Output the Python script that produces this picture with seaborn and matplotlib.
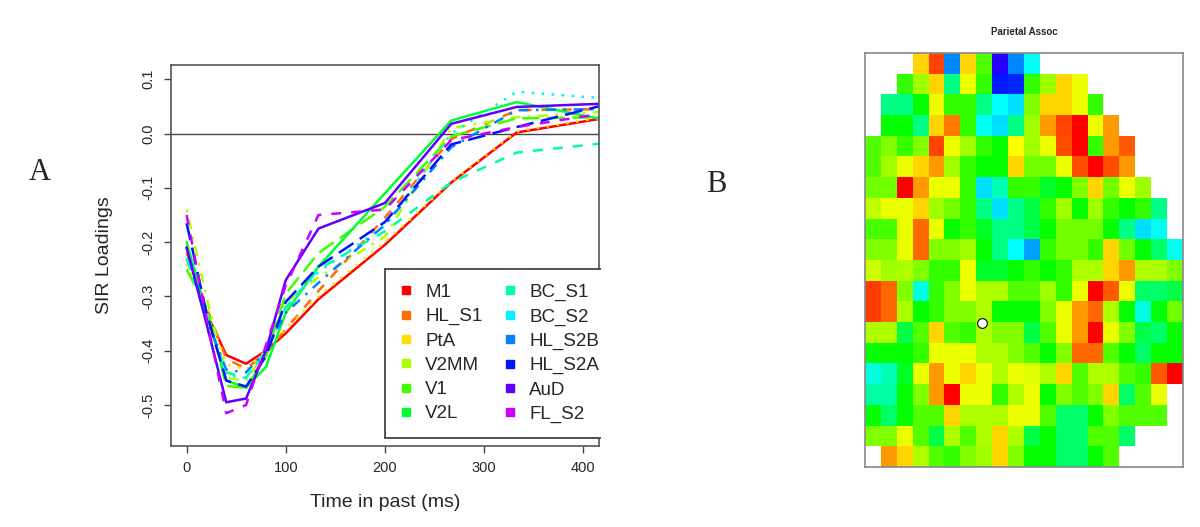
import numpy as np
import pandas as pd
import matplotlib
matplotlib.use("Agg")
import matplotlib.pyplot as plt
import matplotlib.colors as mcolors
from matplotlib.lines import Line2D
from matplotlib.patches import Rectangle
import seaborn as sns

# painel A: cargas SIR por area ao longo do tempo
tempo = [0, 20, 40, 60, 80, 100, 133, 200, 267, 333, 420]
areas = ["M1", "HL_S1", "PtA", "V2MM", "V1", "V2L",
         "BC_S1", "BC_S2", "HL_S2B", "HL_S2A", "AuD", "FL_S2"]

M1 = [-0.21, -0.33, -0.408, -0.424, -0.40, -0.368, -0.305, -0.205, -0.09, 0.002, 0.028]
HL_S1 = [-0.22, -0.32, -0.415, -0.433, -0.405, -0.36, -0.29, -0.155, -0.01, 0.043, 0.045]
PtA = [-0.24, -0.32, -0.425, -0.435, -0.40, -0.36, -0.30, -0.20, -0.088, 0.004, 0.03]
V2MM = [-0.14, -0.30, -0.45, -0.455, -0.40, -0.31, -0.265, -0.19, 0.01, 0.03, 0.04]
V1 = [-0.25, -0.32, -0.465, -0.468, -0.41, -0.295, -0.22, -0.135, -0.005, 0.028, 0.03]
V2L = [-0.20, -0.33, -0.455, -0.468, -0.43, -0.33, -0.245, -0.11, 0.024, 0.058, 0.026]
BC_S1 = [-0.23, -0.34, -0.44, -0.45, -0.40, -0.32, -0.25, -0.18, -0.09, -0.035, -0.018]
BC_S2 = [-0.23, -0.33, -0.445, -0.45, -0.40, -0.32, -0.255, -0.17, 0.0, 0.077, 0.065]
HL_S2B = [-0.21, -0.34, -0.435, -0.44, -0.40, -0.33, -0.275, -0.168, -0.025, 0.043, 0.045]
HL_S2A = [-0.165, -0.33, -0.455, -0.466, -0.41, -0.31, -0.245, -0.163, -0.02, 0.012, 0.052]
AuD = [-0.21, -0.35, -0.495, -0.488, -0.40, -0.27, -0.175, -0.128, 0.018, 0.049, 0.055]
FL_S2 = [-0.15, -0.34, -0.515, -0.50, -0.39, -0.28, -0.15, -0.14, -0.012, 0.012, 0.037]

cargas = [M1, HL_S1, PtA, V2MM, V1, V2L, BC_S1, BC_S2, HL_S2B, HL_S2A, AuD, FL_S2]

# painel B: mapa de pesos (valores na escala do arco-iris, nan = fora)
n = np.nan
mapa = [
    [n, n, n, .14, .045, .58, .14, .28, .69, .58, .49, n, n, n, n, n, n, n, n, n],
    [n, n, .30, .23, .14, .42, .18, .30, .65, .64, .30, .23, .14, .18, n, n, n, n, n, n],
    [n, .42, .42, .33, .18, .30, .30, .42, .50, .52, .25, .14, .14, .18, .30, n, n, n, n, n],
    [n, .33, .33, .42, .14, .08, .30, .49, .52, .42, .23, .10, .045, .0, .18, .10, n, n, n, n],
    [.28, .25, .30, .25, .045, .18, .23, .30, .33, .17, .23, .18, .05, .0, .30, .10, .06, n, n, n],
    [.28, .23, .18, .14, .10, .23, .30, .33, .33, .14, .26, .26, .18, .05, .0, .05, .10, n, n, n],
    [.26, .26, .0, .10, .18, .18, .30, .52, .45, .30, .30, .36, .33, .25, .14, .26, .18, .23, n, n],
    [.21, .18, .18, .14, .23, .26, .30, .42, .52, .42, .38, .30, .23, .33, .23, .30, .33, .30, .42, n],
    [.29, .29, .18, .07, .18, .33, .30, .36, .42, .42, .38, .33, .26, .26, .26, .33, .42, .52, .49, n],
    [.25, .25, .18, .07, .25, .25, .23, .33, .42, .50, .56, .30, .26, .26, .30, .14, .26, .33, .40, .49],
    [.20, .23, .22, .25, .30, .30, .18, .36, .36, .33, .30, .33, .30, .22, .22, .14, .10, .22, .22, .25],
    [.04, .07, .25, .48, .30, .25, .18, .22, .22, .28, .28, .23, .30, .18, .0, .06, .18, .40, .40, .38],
    [.04, .07, .22, .33, .30, .25, .25, .22, .33, .33, .33, .25, .18, .10, .07, .22, .33, .48, .34, .26],
    [.22, .22, .38, .28, .14, .28, .30, .22, .25, .25, .38, .28, .18, .10, .0, .18, .25, .38, .40, .33],
    [.33, .33, .33, .30, .18, .18, .18, .22, .22, .25, .28, .33, .25, .07, .07, .28, .33, .40, .33, .33],
    [.48, .45, .36, .18, .10, .18, .14, .18, .22, .18, .19, .22, .14, .28, .22, .22, .28, .30, .06, .0],
    [.44, .44, .33, .25, .10, .0, .18, .18, .30, .22, .18, .33, .25, .28, .25, .14, .40, .28, .18, n],
    [.33, .40, .33, .28, .28, .14, .22, .22, .22, .18, .18, .28, .40, .40, .33, .25, .28, .28, .28, n],
    [.25, .25, .18, .28, .38, .22, .28, .22, .14, .22, .38, .33, .40, .40, .28, .28, .40, n, n, n],
    [n, .10, .14, .22, .28, .30, .25, .23, .14, .25, .33, .33, .40, .40, .33, .28, n, n, n, n],
]
ponto_x = [7.36]
ponto_y = [13.04]

sns.set_style("white")
plt.rcParams["font.family"] = ["Liberation Sans", "DejaVu Sans"]
plt.rcParams["axes.unicode_minus"] = False

# tabela longa para o seaborn
linhas = []
for area, valores in zip(areas, cargas):
    for t, v in zip(tempo, valores):
        linhas.append((area, t, v))
df = pd.DataFrame(linhas, columns=["area", "tempo", "carga"])

cores = [mcolors.hsv_to_rgb((h, 1, 1)) for h in np.linspace(0, 0.8, 12)]
# tipos de linha do R (lty 1..5 repetindo)
tipos = ["", (4, 4), (1, 3), (1, 3, 4, 3), (7, 3)]
tracos = {a: tipos[i % 5] for i, a in enumerate(areas)}

fig = plt.figure(figsize=(12, 5.27), dpi=100)
ax = fig.add_axes([0.1423, 0.1537, 0.3569, 0.7230])

ax.axhline(0, color="#444444", lw=1.0, zorder=1)
sns.lineplot(data=df, x="tempo", y="carga", hue="area", style="area",
             hue_order=areas, style_order=areas, palette=cores, dashes=tracos,
             lw=1.8, legend=False, ax=ax, zorder=2)

ax.set_xlim(-16, 416)
ax.set_ylim(-0.5755, 0.1263)
ax.set_xticks([0, 100, 200, 300, 400])
ax.set_yticks([-0.5, -0.4, -0.3, -0.2, -0.1, 0.0, 0.1])
ax.set_yticklabels(["-0.5", "-0.4", "-0.3", "-0.2", "-0.1", "0.0", "0.1"])
ax.tick_params(axis="both", direction="out", length=5, width=1, color="#444444",
               labelsize=10.5, pad=6, bottom=True, left=True)
for lab in ax.get_yticklabels():
    lab.set_rotation(90)
    lab.set_va("center")
for sp in ax.spines.values():
    sp.set_color("#555555")
    sp.set_linewidth(1.2)
ax.set_xlabel("Time in past (ms)", fontsize=14)
ax.set_ylabel("SIR Loadings", fontsize=14)
ax.xaxis.set_label_coords(0.5, -0.125)
ax.yaxis.set_label_coords(-0.135, 0.5)

marcas = [Line2D([], [], ls="", marker="s", markersize=6, color=c) for c in cores]
leg = ax.legend(marcas, areas, ncol=2, loc="upper left", bbox_to_anchor=(0.5003, 0.465),
                fontsize=13.5, frameon=True, fancybox=False, framealpha=1,
                edgecolor="#333333", borderpad=0.8, handlelength=0.6,
                handletextpad=0.75, columnspacing=1.15, labelspacing=0.38,
                borderaxespad=0)
leg.get_frame().set_linewidth(1.2)

# o painel original esta cortado a direita
fig.add_artist(Rectangle((600.5 / 1200, 0), 250 / 1200, 1, transform=fig.transFigure,
                         facecolor="white", edgecolor="none", zorder=5))

# painel B
ax2 = fig.add_axes([0.7208, 0.1139, 0.2650, 0.7856])
arco = mcolors.ListedColormap([mcolors.hsv_to_rgb((h, 1, 1)) for h in np.linspace(0, 0.75, 256)])
sns.heatmap(np.array(mapa), cmap=arco, vmin=0, vmax=0.75, cbar=False,
            xticklabels=False, yticklabels=False, ax=ax2)
ax2.plot(ponto_x, ponto_y, "o", ms=7, mfc="white", mec="black", mew=0.8)
for sp in ax2.spines.values():
    sp.set_visible(True)
    sp.set_color("#888888")
    sp.set_linewidth(1.2)
ax2.set_title("Parietal Assoc", fontsize=7, fontweight="bold", pad=13)

fig.text(40 / 1200, 1 - 172 / 527, "A", fontsize=22, family="Liberation Serif",
         ha="center", va="center", zorder=10)
fig.text(716 / 1200, 1 - 185 / 527, "B", fontsize=22, family="Liberation Serif",
         ha="center", va="center", zorder=10)

fig.savefig("out.png", dpi=100)
